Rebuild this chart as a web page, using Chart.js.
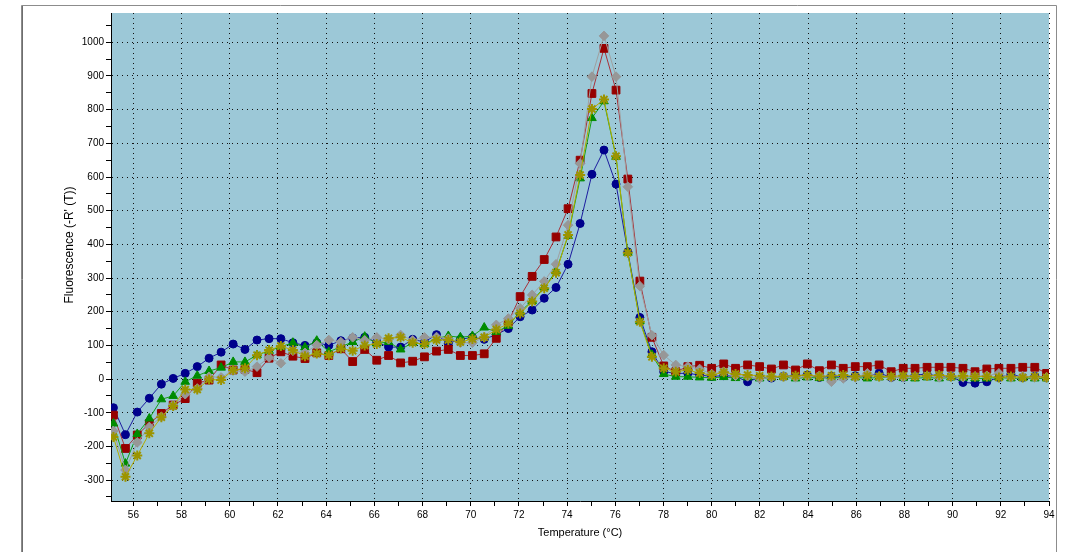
<!DOCTYPE html>
<html>
<head>
<meta charset="utf-8">
<title>Melt curve</title>
<script src="https://cdn.jsdelivr.net/npm/chart.js@4/dist/chart.umd.min.js"></script>
<style>
  html, body { margin: 0; padding: 0; background: #fff; }
  #melt { display: block; }
</style>
</head>
<body>
<canvas id="melt" width="1066" height="552"></canvas>
<script>
// temperature of each reading (°C)
const temps = [
  55.17, 55.67, 56.16, 56.66, 57.16, 57.65, 58.15, 58.65, 59.14, 59.64,
  60.14, 60.63, 61.13, 61.63, 62.12, 62.62, 63.12, 63.61, 64.11, 64.61,
  65.10, 65.60, 66.10, 66.59, 67.09, 67.59, 68.08, 68.58, 69.07, 69.57,
  70.07, 70.56, 71.06, 71.56, 72.05, 72.55, 73.05, 73.54, 74.04, 74.54,
  75.03, 75.53, 76.03, 76.52, 77.02, 77.52, 78.01, 78.51, 79.01,
  79.50, 80.00, 80.50, 80.99, 81.49, 81.99, 82.48, 82.98, 83.48, 83.97,
  84.47, 84.97, 85.46, 85.96, 86.46, 86.95, 87.45, 87.95, 88.44, 88.94,
  89.44, 89.93, 90.43, 90.93, 91.42, 91.92, 92.42, 92.91, 93.41, 93.90
];

// -R'(T) per well
const curveBlue = [
  -85, -165, -98, -57, -15, 2, 17, 37, 62, 80,
  104, 88, 116, 120, 120, 108, 100, 108, 100, 114,
  122, 124, 110, 95, 95, 118, 110, 132, 106, 118,
  124, 118, 132, 150, 185, 205, 240, 272, 341, 462,
  608, 680, 579, 378, 183, 81, 22, 17, 17,
  12, 8, 10, 8, -8, 5, 3, 8, 10, 12,
  5, 8, 5, 10, 8, 18, 5, 5, 12, 15,
  8, 8, -10, -12, -8, 5, 15, 5, 8, 5
];
const curveRed = [
  -107, -206, -166, -132, -102, -77, -58, -12, -3, 42,
  27, 29, 19, 62, 81, 68, 61, 78, 70, 90,
  52, 88, 56, 70, 48, 53, 66, 83, 88, 70,
  70, 75, 121, 170, 245, 305, 355, 422, 506, 650,
  848, 982, 858, 594, 291, 124, 39, 22, 37,
  41, 32, 45, 32, 42, 37, 30, 42, 27, 45,
  25, 42, 32, 37, 37, 42, 22, 32, 32, 35,
  35, 35, 32, 22, 30, 32, 32, 35, 35, 17
];
const curveGreen = [
  -132, -251, -163, -117, -60, -50, -8, 10, 24, 34,
  51, 51, 71, 84, 96, 108, 94, 114, 81, 96,
  110, 126, 106, 110, 88, 108, 104, 121, 128, 124,
  128, 153, 140, 158, 200, 232, 272, 320, 425, 596,
  775, 825, 660, 375, 172, 72, 15, 7, 7,
  5, 4, 6, 3, 5, 2, 5, 6, 2, 5,
  3, 2, 6, 5, 2, 5, 6, 3, 2, 5,
  2, 5, 3, 2, 2, 5, 2, 3, 2, 2
];
const curveGray = [
  -154, -270, -188, -142, -112, -77, -45, -28, 7, 5,
  25, 22, 37, 64, 47, 84, 78, 101, 116, 110,
  124, 115, 124, 118, 131, 115, 124, 125, 120, 108,
  108, 124, 161, 180, 210, 250, 290, 341, 457, 640,
  898, 1019, 898, 571, 276, 130, 71, 42, 37,
  30, 15, 22, 10, 8, 2, 5, 8, 5, 8,
  10, -8, 2, 5, 17, 8, 5, 5, 8, 10,
  5, 8, 5, 8, 10, 17, 5, 8, 5, 5
];
const curveOlive = [
  -172, -290, -227, -161, -113, -80, -31, -31, -1, -3,
  27, 32, 71, 86, 98, 86, 68, 76, 71, 91,
  84, 100, 104, 121, 124, 108, 104, 116, 116, 110,
  119, 124, 147, 165, 195, 230, 270, 316, 428, 606,
  802, 830, 662, 375, 170, 66, 32, 22, 27,
  18, 12, 20, 15, 12, 10, 8, 8, 10, 12,
  8, 10, 12, 8, 10, 8, 8, 10, 8, 10,
  12, 8, 10, 8, 8, 5, 8, 5, 8, 5
];

// axis ticks: labels on the even degrees / hundreds, plain marks in between
const tempTicks = [56, 57, 58, 59, 60, 61, 62, 63, 64, 65, 66, 67, 68, 69, 70, 71, 72, 73, 74, 75,
  76, 77, 78, 79, 80, 81, 82, 83, 84, 85, 86, 87, 88, 89, 90, 91, 92, 93, 94];
const fluorTicks = [-350, -300, -250, -200, -150, -100, -50, 0, 50, 100, 150, 200, 250, 300,
  350, 400, 450, 500, 550, 600, 650, 700, 750, 800, 850, 900, 950, 1000, 1050];

const yTitle = "Fluorescence (-R' (T))";

const FAMILY = "'Liberation Sans', Arial, sans-serif";
const TICK_FONT = { family: FAMILY, size: 10 };
const TITLE_FONT = { family: FAMILY, size: 11 };

function series(values, line, fill, style, radius, order) {
  return {
    data: temps.map((t, i) => ({ x: t, y: values[i] })),
    borderColor: line,
    borderWidth: 1,
    pointStyle: style,
    pointRadius: radius,
    pointBackgroundColor: fill,
    pointBorderColor: fill,
    pointBorderWidth: style === 'star' ? 2 : 1,
    tension: 0,
    order: order
  };
}

// white panel with grey frame, blue plot area, rotated y title
const frame = {
  id: 'frame',
  beforeDraw(chart) {
    const { ctx, chartArea: a } = chart;
    ctx.save();
    ctx.fillStyle = '#ffffff';
    ctx.fillRect(0, 0, chart.width, chart.height);
    ctx.strokeStyle = '#8c8c8c';
    ctx.lineWidth = 1;
    ctx.beginPath();
    ctx.moveTo(21.5, 560);
    ctx.lineTo(21.5, 5.5);
    ctx.lineTo(1056.5, 5.5);
    ctx.lineTo(1056.5, 560);
    ctx.stroke();
    ctx.strokeStyle = '#6e6e6e';
    ctx.beginPath();
    ctx.moveTo(22.5, 560);
    ctx.lineTo(22.5, 6);
    ctx.stroke();
    ctx.fillStyle = '#9cc8d7';
    ctx.fillRect(a.left, a.top, a.right - a.left, a.bottom - a.top);
    ctx.restore();
  },
  afterDraw(chart) {
    const { ctx } = chart;
    ctx.save();
    ctx.translate(70, 245);
    ctx.rotate(-Math.PI / 2);
    ctx.font = '12px ' + FAMILY;
    ctx.fillStyle = '#000';
    ctx.textAlign = 'center';
    ctx.textBaseline = 'middle';
    ctx.fillText(yTitle, 0, 0);
    ctx.restore();
  }
};

new Chart(document.getElementById('melt'), {
  type: 'line',
  data: {
    datasets: [
      series(curveBlue, '#1c1ca0', '#00008c', 'circle', 4, 5),
      series(curveRed, '#a8323a', '#960000', 'rect', 5.5, 4),
      series(curveGreen, '#14a014', '#008c00', 'triangle', 5, 3),
      series(curveGray, '#a0a0a0', '#979797', 'rectRot', 4.8, 2),
      series(curveOlive, '#b4ac00', '#9c9400', 'star', 5, 1)
    ]
  },
  options: {
    responsive: false,
    animation: false,
    events: [],
    layout: { padding: { left: 59, top: 13, right: 17, bottom: 8 } },
    plugins: { legend: { display: false }, tooltip: { enabled: false } },
    scales: {
      x: {
        type: 'linear',
        min: 55.07,
        max: 94,
        afterBuildTicks: (s) => { s.ticks = tempTicks.map(v => ({ value: v })); },
        afterFit: (s) => { s.height = 43; },
        ticks: {
          color: '#000',
          font: TICK_FONT,
          padding: 3,
          maxRotation: 0,
          autoSkip: false,
          callback: (v) => (v % 2 === 0 ? String(v) : '')
        },
        grid: {
          color: (c) => (c.tick && c.tick.value % 2 === 0 ? '#111' : 'rgba(0,0,0,0)'),
          tickColor: '#000',
          tickLength: 5,
          lineWidth: 1
        },
        border: { display: true, color: '#000', width: 1, dash: [1, 4] },
        title: {
          display: true,
          text: 'Temperature (°C)',
          color: '#000',
          font: TITLE_FONT,
          padding: { top: 4, bottom: 4 }
        }
      },
      y: {
        type: 'linear',
        min: -362,
        max: 1087,
        afterBuildTicks: (s) => { s.ticks = fluorTicks.map(v => ({ value: v })); },
        afterFit: (s) => { s.width = 52; },
        ticks: {
          color: '#000',
          font: TICK_FONT,
          padding: 2,
          autoSkip: false,
          callback: (v) => (v % 100 === 0 ? String(v) : '')
        },
        grid: {
          color: (c) => (c.tick && c.tick.value % 100 === 0 ? '#111' : 'rgba(0,0,0,0)'),
          tickColor: '#000',
          tickLength: 5,
          lineWidth: 1
        },
        border: { display: true, color: '#000', width: 1, dash: [1, 4] },
        title: { display: false }
      }
    }
  },
  plugins: [frame]
});
</script>
</body>
</html>
